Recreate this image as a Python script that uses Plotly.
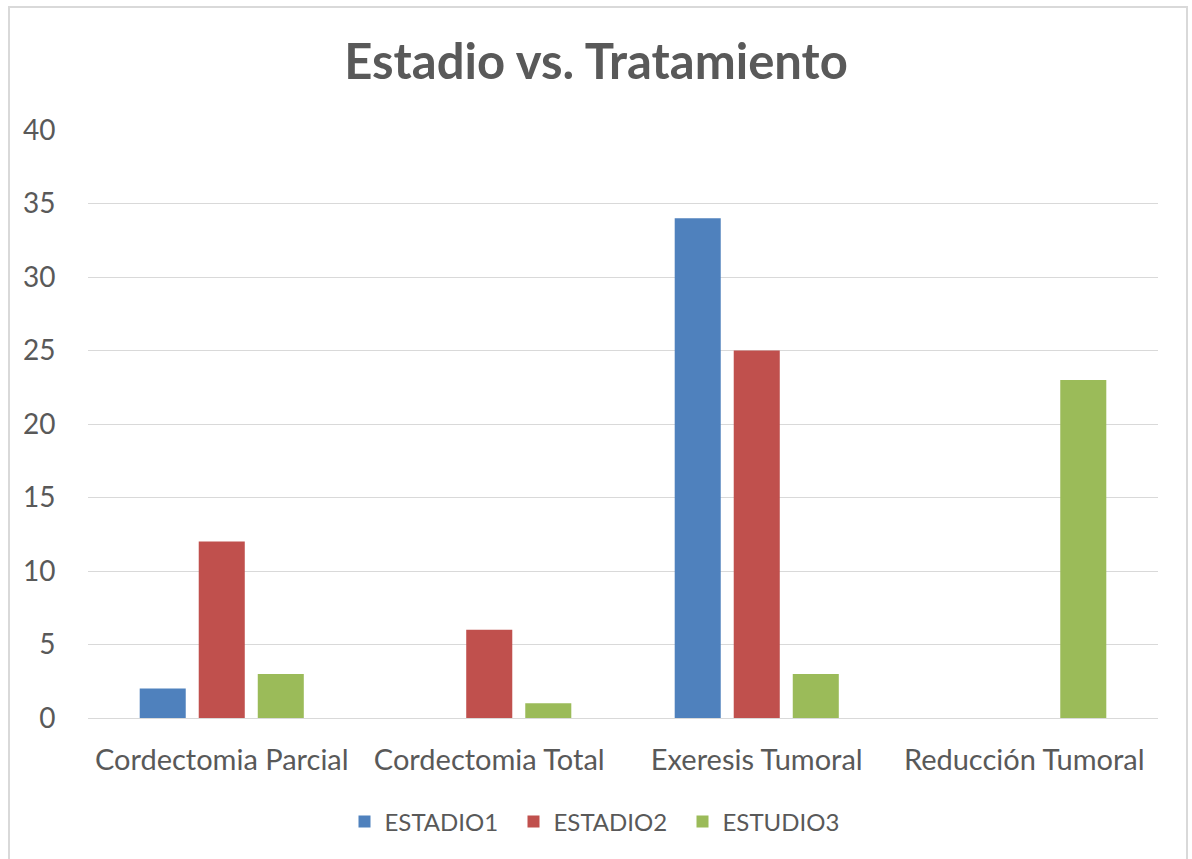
import plotly.graph_objects as go

categories = ["Cordectomia Parcial", "Cordectomia Total", "Exeresis Tumoral", "Reducción Tumoral"]
estadio1 = [2, 0, 34, 0]
estadio2 = [12, 6, 25, 0]
estudio3 = [3, 1, 3, 23]
series_names = ["ESTADIO1", "ESTADIO2", "ESTUDIO3"]
colors = ["#4F81BD", "#C0504D", "#9BBB59"]
y_ticks = [0, 5, 10, 15, 20, 25, 30, 35, 40]

W, H = 1192, 859
L, R, T, B = 88, 34, 130, 141
pw, ph = W - L - R, H - T - B

fig = go.Figure()
for name, vals, c in zip(series_names, [estadio1, estadio2, estudio3], colors):
    fig.add_trace(go.Bar(x=categories, y=vals, name=name, marker=dict(color=c, line=dict(width=0))))

font_family = "Lato, 'Open Sans', sans-serif"
fig.update_layout(
    width=W, height=H,
    margin=dict(l=L, r=R, t=T, b=B),
    paper_bgcolor="white", plot_bgcolor="white",
    barmode="group", bargap=0.338, bargroupgap=0.22,
    title=dict(text="<b>Estadio vs. Tratamiento</b>", x=0.5, xanchor="center",
               y=1 - 62 / H, yanchor="middle",
               font=dict(family=font_family, size=49, color="#595959")),
    font=dict(family=font_family, color="#595959"),
    legend=dict(orientation="h", x=0.5 - 25 / pw, xanchor="center", y=(718 - 822) / ph, yanchor="middle",
                font=dict(size=24, color="#595959"), traceorder="normal",
                itemwidth=30, entrywidth=124, bgcolor="rgba(0,0,0,0)"),
    showlegend=True,
)
fig.update_yaxes(range=[0, 40], tickvals=y_ticks, showgrid=True, gridcolor="#D9D9D9", gridwidth=1,
                 zeroline=False, showline=False, tickfont=dict(size=28, color="#595959"),
                 ticks="outside", ticklen=26, tickcolor="rgba(0,0,0,0)")
fig.update_xaxes(showline=True, linecolor="#D9D9D9", linewidth=1, showgrid=False,
                 tickfont=dict(size=29, color="#595959"),
                 ticks="outside", ticklen=16, tickcolor="rgba(0,0,0,0)")
fig.add_shape(type="rect", xref="paper", yref="paper",
              x0=(9 - L) / pw, x1=(1187 - L) / pw, y0=(718 - 880) / ph, y1=(718 - 7) / ph,
              line=dict(color="#D9D9D9", width=2), fillcolor="rgba(0,0,0,0)", layer="below")
fig.write_html("out.html")
